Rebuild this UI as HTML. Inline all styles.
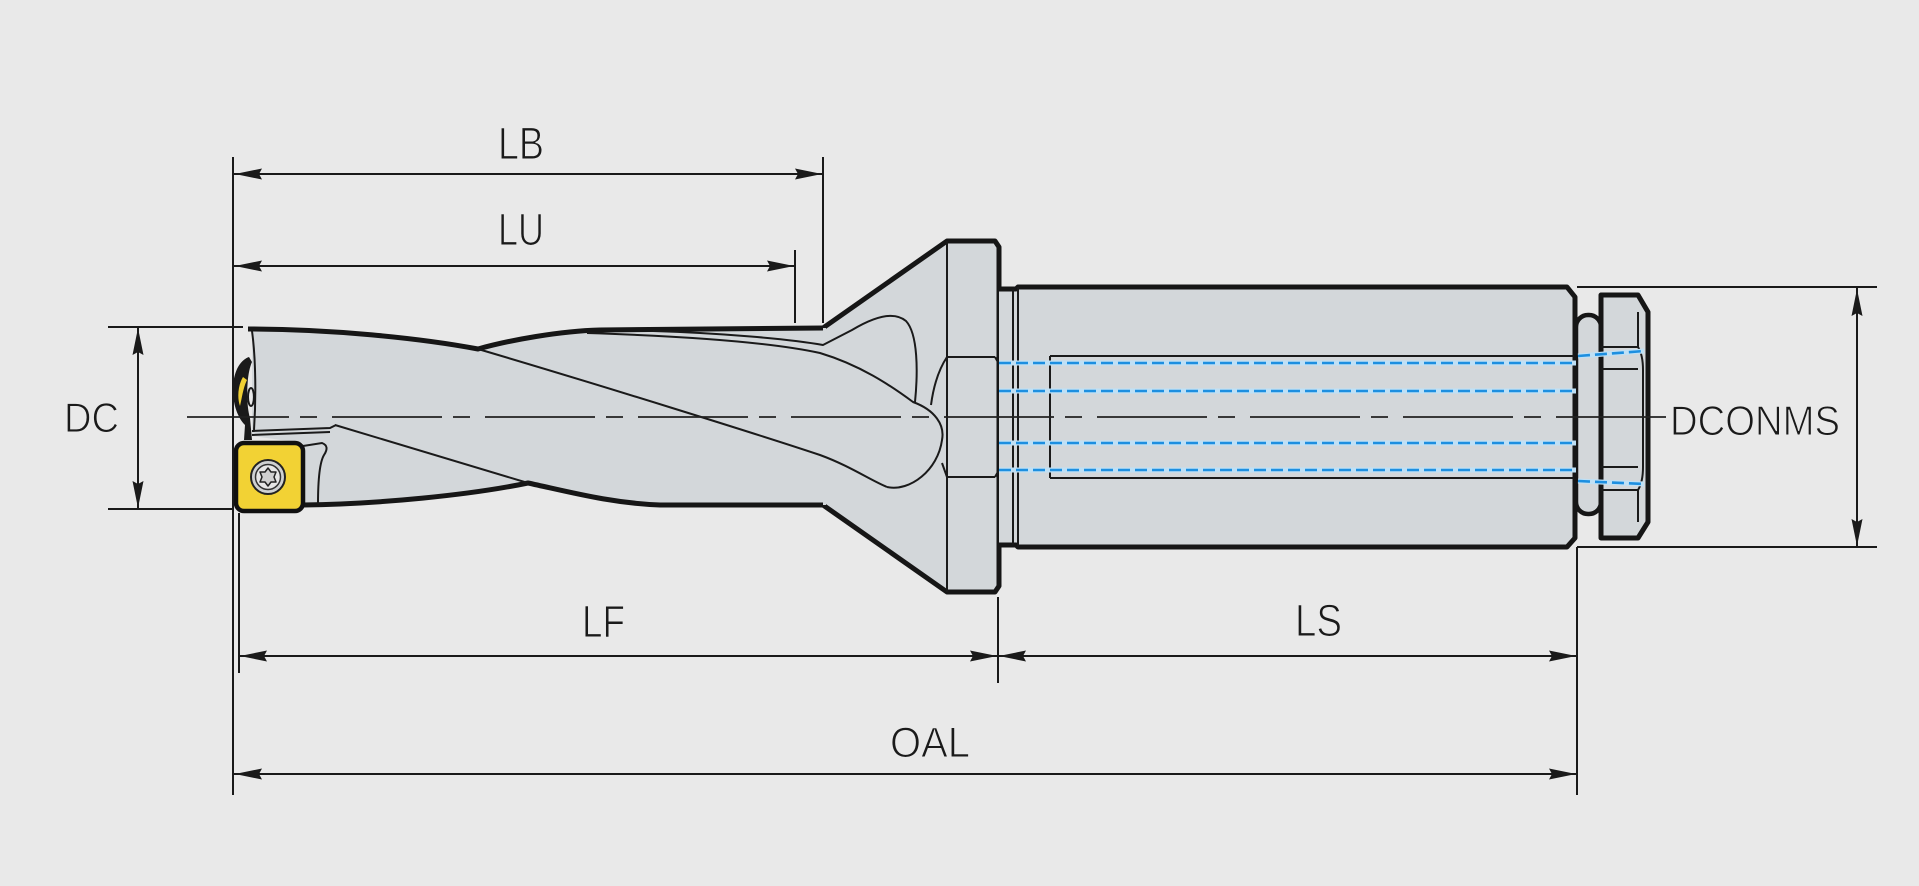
<!DOCTYPE html>
<html><head><meta charset="utf-8"><style>
html,body{margin:0;padding:0;background:#e9e9e9;}
svg{display:block;}
text{font-family:"Liberation Sans",Arial,sans-serif;fill:#1a1a1a;stroke:#e9e9e9;stroke-width:1.1;}
</style></head><body>
<svg width="1919" height="886" viewBox="0 0 1919 886" xmlns="http://www.w3.org/2000/svg">
<rect x="0" y="0" width="1919" height="886" fill="#e9e9e9"/>

<!-- Flange -->
<path d="M823,328 L947,241 L995,241 L999,247 L999,586 L995,592 L947,592 L823,505 Z" fill="#d3d7da"/>
<path d="M823,328 L947,241 L995,241 L999,247 L999,586 L995,592 L947,592 L823,505" fill="none" stroke="#161616" stroke-width="5" stroke-linejoin="round"/>
<path d="M947,241 L947,592 M947,357 L995,357 M947,477 L995,477 M995,357 L999,364 M999,470 L995,477 M947,357 Q935,375 931,405 M942,463 L947,477" fill="none" stroke="#1a1a1a" stroke-width="2"/>

<!-- Drill body -->
<path d="M248,329 C330,329 420,338 478,349 C510,340 560,331 600,330 L826,328 L826,505 L660,505 C610,503 570,492 528,483 C470,495 380,504 303,505 L303,443 L252,436 L252,329 Z" fill="#d3d7da"/>
<path d="M248,329 C330,329 420,338 478,349 C510,340 560,331 600,330 L823,328" fill="none" stroke="#161616" stroke-width="5" stroke-linejoin="round"/>
<path d="M303,505 C380,504 470,495 528,483 C570,492 610,503 660,505 L823,505" fill="none" stroke="#161616" stroke-width="5" stroke-linejoin="round"/>
<!-- flute lines -->
<g fill="none" stroke="#1a1a1a" stroke-width="2">
<path d="M478,349 C600,385 760,435 820,455 C850,466 870,480 887,487"/>
<path d="M587,333 C680,336 770,342 820,353 C860,365 890,385 913,402 C935,410 945,425 942,440 C938,470 910,492 887,487"/>
<path d="M653,331 C720,333 790,339 823,345 L852,330 C872,318 893,310 906,321 C918,334 918,372 915,402"/>
<path d="M335,425 L528,483"/>
<path d="M252,431 L330,428 L336,425 M252,435 L330,432"/>
<path d="M303,446 L322,443 Q330,446 324,455 Q318,465 318,504"/>
<path d="M252,331 C256,360 256,400 254,430"/>
<ellipse cx="251" cy="397" rx="3" ry="9"/>
</g>

<!-- Neck & Shank -->
<rect x="999" y="289" width="19" height="256" fill="#d3d7da"/>
<path d="M1018,287 L1567,287 L1575,297 L1575,538 L1567,547 L1018,547 Z" fill="#d3d7da"/>
<path d="M999,289 L1016,289 L1018,287 L1567,287 L1575,297 L1575,538 L1567,547 L1018,547 L1016,545 L999,545" fill="none" stroke="#161616" stroke-width="5" stroke-linejoin="round"/>
<path d="M1013,289 L1013,545 M1018,287 L1018,547 M1050,356 L1576,356 M1050,478 L1576,478 M1050,356 L1050,478" fill="none" stroke="#1a1a1a" stroke-width="2"/>

<!-- Ring & Nut -->
<rect x="1576" y="315" width="25" height="199" rx="12" fill="#d3d7da" stroke="#161616" stroke-width="4.5"/>
<path d="M1601,295 L1638,295 L1648,312 L1648,522 L1638,538 L1601,538 Z" fill="#d3d7da" stroke="#161616" stroke-width="5" stroke-linejoin="round"/>
<path d="M1601,347 L1638,347 M1601,369 L1638,369 M1601,467 L1638,467 M1601,490 L1638,490 M1638,312 L1638,347 Q1643,355 1643,370 L1643,467 Q1643,482 1638,490 L1638,522" fill="none" stroke="#1a1a1a" stroke-width="2"/>

<!-- Coolant lines -->
<g fill="none" stroke="#bfe0f5" stroke-width="5">
<path d="M999,363 L1576,363 M999,391 L1576,391 M999,443 L1576,443 M999,470 L1576,470 M1578,356 L1644,351 M1578,481 L1644,484"/>
</g>
<g fill="none" stroke="#1d8fe0" stroke-width="2.6" stroke-dasharray="12 5">
<path d="M999,363 L1576,363 M999,391 L1576,391 M999,443 L1576,443 M999,470 L1576,470 M1578,356 L1644,351 M1578,481 L1644,484"/>
</g>

<!-- Insert -->
<path d="M249,357 C240,360 233,372 233,390 C233,405 238,418 245,425 L244,440 L252,440 L250,418 C246,405 246,375 252,362 Z" fill="#1a1a1a"/>
<path d="M243,377 C238,385 237,398 240,406 C242,398 243,388 247,380 Z" fill="#f0d034"/>
<rect x="236" y="443" width="67" height="68" rx="8" fill="#f2d234" stroke="#111" stroke-width="4.5"/>
<circle cx="268" cy="477" r="17" fill="#cfd1d2" stroke="#222" stroke-width="2"/>
<circle cx="268" cy="477" r="12.5" fill="#e6e6e6" stroke="#333" stroke-width="1.5"/>
<path d="M268,468 L271,472 L276,472 L274,477 L276,482 L271,482 L268,486 L265,482 L260,482 L262,477 L260,472 L265,472 Z" fill="#d0d0d0" stroke="#222" stroke-width="1.5" stroke-linejoin="round"/>

<!-- Centerline -->
<path d="M187,417 L1667,417" stroke="#222" stroke-width="1.8" stroke-dasharray="110 11 17 15" stroke-dashoffset="8" fill="none"/>

<!-- Dimension lines -->
<g stroke="#1a1a1a" stroke-width="2" fill="none">
<path d="M233,157 L233,795"/>
<path d="M239,513 L239,673"/>
<path d="M823,157 L823,323"/>
<path d="M795,250 L795,323"/>
<path d="M233,174 L823,174"/>
<path d="M233,266 L795,266"/>
<path d="M108,327 L243,327 M108,509 L232,509 M138,327 L138,509"/>
<path d="M239,656 L997,656 M999,656 L1577,656"/>
<path d="M998,597 L998,683"/>
<path d="M233,774 L1577,774"/>
<path d="M1577,547 L1577,795"/>
<path d="M1577,287 L1877,287 M1577,547 L1877,547 M1857,287 L1857,547"/>
</g>
<g fill="#1a1a1a">
<polygon points="235,174 262,168.5 259,174 262,179.5"/>
<polygon points="822,174 795,168.5 798,174 795,179.5"/>
<polygon points="235,266 262,260.5 259,266 262,271.5"/>
<polygon points="794,266 767,260.5 770,266 767,271.5"/>
<polygon points="138,328 132.5,355 138,352 143.5,355"/>
<polygon points="138,508 132.5,481 138,484 143.5,481"/>
<polygon points="240,656 267,650.5 264,656 267,661.5"/>
<polygon points="997,656 970,650.5 973,656 970,661.5"/>
<polygon points="999,656 1026,650.5 1023,656 1026,661.5"/>
<polygon points="1576,656 1549,650.5 1552,656 1549,661.5"/>
<polygon points="235,774 262,768.5 259,774 262,779.5"/>
<polygon points="1576,774 1549,768.5 1552,774 1549,779.5"/>
<polygon points="1857,289 1851.5,316 1857,313 1862.5,316"/>
<polygon points="1857,546 1851.5,519 1857,522 1862.5,519"/>
</g>

<!-- Labels -->
<text x="498" y="159" font-size="45" textLength="46" lengthAdjust="spacingAndGlyphs">LB</text>
<text x="498" y="245" font-size="45" textLength="46" lengthAdjust="spacingAndGlyphs">LU</text>
<text x="64" y="432" font-size="42" textLength="55" lengthAdjust="spacingAndGlyphs">DC</text>
<text x="582" y="637" font-size="45" textLength="43" lengthAdjust="spacingAndGlyphs">LF</text>
<text x="1295" y="636" font-size="45" textLength="47" lengthAdjust="spacingAndGlyphs">LS</text>
<text x="890" y="757" font-size="43" textLength="80" lengthAdjust="spacingAndGlyphs">OAL</text>
<text x="1670" y="435" font-size="42" textLength="170" lengthAdjust="spacingAndGlyphs">DCONMS</text>
</svg>
</body></html>
